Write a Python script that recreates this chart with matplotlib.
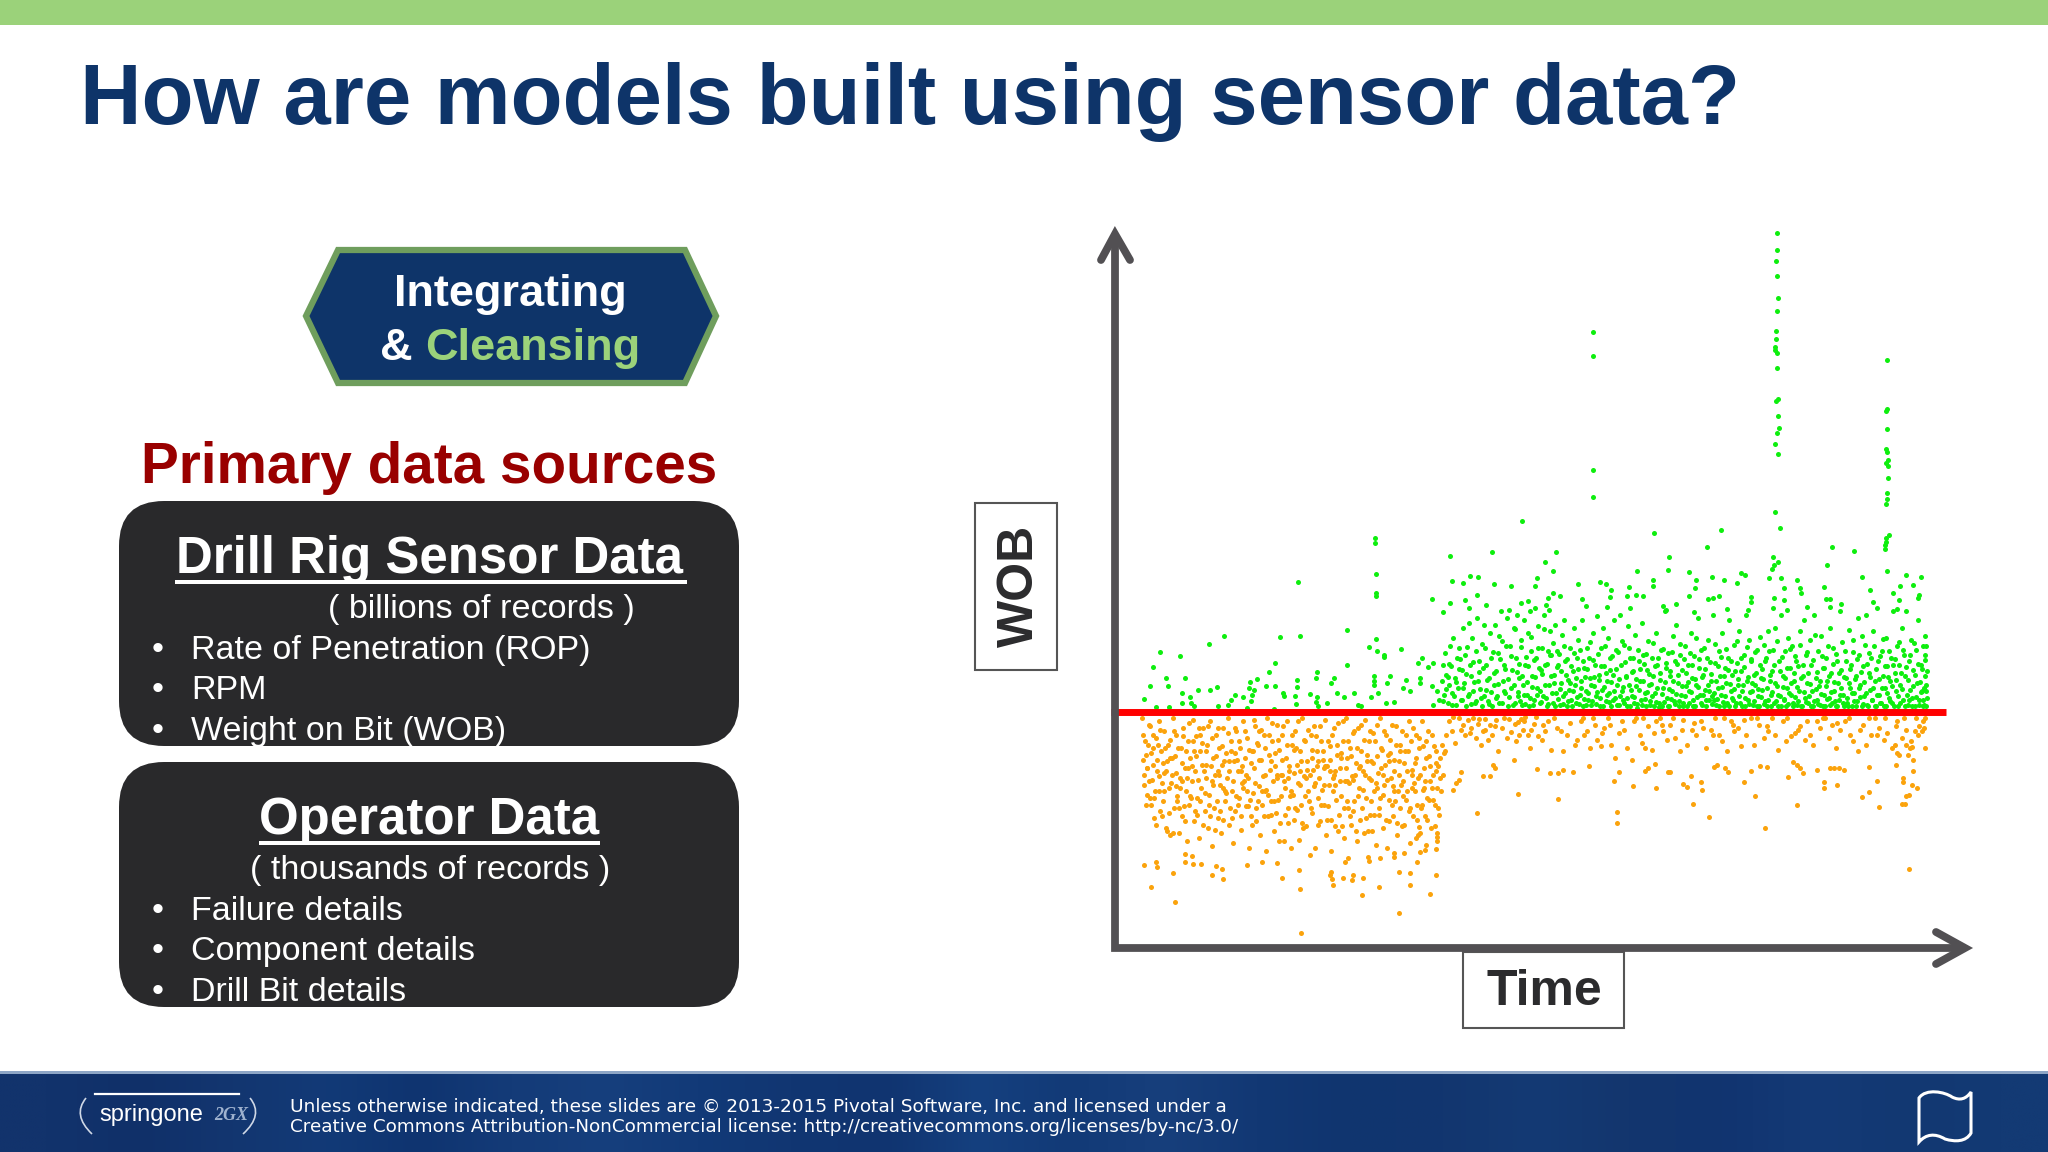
# Slide: how models are built using sensor data (WOB over time scatter)
import numpy as np
import matplotlib
matplotlib.use('Agg')
import matplotlib.pyplot as plt
from matplotlib.patches import FancyBboxPatch, Polygon, PathPatch, Rectangle
from matplotlib.path import Path
from matplotlib.colors import to_rgb

plt.rcParams['font.family'] = ['Liberation Sans', 'DejaVu Sans']

# Slide text
title = 'How are models built using sensor data?'
sensor_items = ['Rate of Penetration (ROP)', 'RPM', 'Weight on Bit (WOB)']
operator_items = ['Failure details', 'Component details', 'Drill Bit details']
footer_lines = ['Unless otherwise indicated, these slides are © 2013-2015 Pivotal Software, Inc. and licensed under a',
                'Creative Commons Attribution-NonCommercial license: http://creativecommons.org/licenses/by-nc/3.0/']

# WOB threshold and its time span
threshold = 707
threshold_span = [60, 1475]

# Green points (time, WOB) above the threshold
green_spikes = [(1188,2146),(1188,2093),(1187,2060),(1188,2017),(1190,1949),(1189,1912),(1187,1852),(1187,1827),
    (1186,1802),(1186,1794),(1188,1784),(1189,1741),(1191,1648),(1187,1641),(1190,1596),(1192,1561),(1189,1546),
    (1185,1513),(1191,1482),(1185,1309),(1193,1261),(876,1848),(876,1777),(876,1434),(876,1353),
    (1376,1764),(1376,1618),(1374,1612),(1376,1558),(1374,1497),(1376,1489),(1377,1464),(1374,1454),(1377,1446),
    (1377,1409),(1376,1364),(1376,1346),(1373,1331),(1378,1239),(1373,1229),(1373,1219),(1372,1209),(1372,1198),
    (757,1282),(980,1246),(1094,1254),(1070,1202),(1282,1204),(1320,1190),(705,1188),(814,1187),(634,1177),
    (507,1229),(507,1214),(508,1122),(509,1066),(509,1056),(377,1098)]
green_mid = [(1182,1174),(1190,1159),(1183,1149),(1181,1136),(1175,1111),(1196,1111),(1005,1174),(1004,1134),
    (1273,1150),(1375,1132),(1333,1114),(1407,1119),(1433,1113),(796,1157),(808,1131),(782,1111),(779,1087),
    (668,1116),(681,1114),(656,1096),(638,1100),(708,1092),(738,1087),(808,1064),(820,1056),(801,1049),(680,1059),
    (660,1044),(604,1046),(634,1034),(622,1009),(696,1029),(666,1019),(754,1034),(767,1042),(797,1029),(802,1014),
    (852,1092),(889,1099),(898,1092),(908,1074),(906,1054),(937,1082),(934,1056),(952,1132),(978,1104),(978,1086),
    (950,1059),(961,1056),(1039,1129),(1052,1104),(1079,1114),(1098,1104),(1050,1079),(1040,1056),(1128,1126),
    (1134,1119),(1120,1096),(1072,1046),(1080,1049),(1090,1056),(1145,1054),(1145,1039),(1140,1014),(1104,1017),
    (1222,1104),(1228,1079),(1230,1064),(1200,1079),(1200,1044),(1184,1049),(1182,1019),(1269,1084),(1272,1046),
    (1278,1046),(1278,1022),(1298,1032),(1240,1022),(1346,1074),(1352,1039),(1385,1066),(1397,1086),(1396,1044),
    (1419,1089),(1430,1059),(1428,1049),(1392,1017),(858,1046),(864,1026),(900,1024),(940,1021),(1017,1032),
    (996,1026),(1000,1014),(1048,1009),(1205,1014)]
green_early = [(142,887),(176,875),(226,912),(251,936),(346,933),(380,936),(459,955),(131,842),(153,811),(185,809),
    (125,786),(156,786),(207,774),(180,766),(115,747),(194,754),(180,736),(195,736),(200,726),(239,784),(228,774),
    (269,759),(262,744),(258,729),(240,726),(295,799),(307,806),(293,779),(301,774),(283,754),(298,759),(296,742),
    (327,827),(337,854),(322,786),(337,786),(351,764),(352,756),(375,804),(375,782),(372,756),(373,732),(408,829),
    (407,809),(397,762),(408,754),(407,737),(411,727),(425,734),(438,811),(433,796),(442,766),(455,754),(472,764),
    (460,849),(496,904),(508,926),(510,892),(522,879),(522,873),(551,897),(506,816),(506,801),(506,789),(532,817),
    (528,796),(512,764),(500,754),(560,804),(555,779),(566,772),(586,869),(580,854),(597,842),(606,854),(584,809),
    (583,794),(540,738),(526,734),(478,729),(484,727),(135,724),(158,724),(290,719),(335,717)]
green_dense = [
    (604,786),(606,730),(612,770),(616,745),(620,800),(622,850),(624,760),(626,885),(628,820),(630,735),(632,790),(634,905),
    (636,845),(638,765),(640,930),(642,810),(644,728),(646,870),(648,780),(650,900),(652,745),(654,835),(656,960),(658,795),
    (660,880),(662,725),(664,755),(666,975),(668,850),(670,815),(672,930),(674,770),(676,735),(678,890),(680,990),(682,800),
    (684,860),(686,750),(688,725),(690,840),(692,970),(694,900),(696,775),(698,740),(700,810),(702,945),(704,870),(706,725),
    (708,790),(710,970),(712,830),(714,755),(716,885),(718,735),(720,1010),(722,920),(724,800),(726,850),(728,765),(730,990),
    (732,725),(734,1015),(736,905),(738,780),(740,835),(742,960),(744,735),(746,870),(748,1000),(750,755),(752,810),(754,925),
    (756,730),(758,790),(760,985),(762,850),(764,760),(766,945),(768,725),(770,1010),(772,890),(774,815),(776,745),(778,1020),
    (780,870),(782,780),(784,965),(786,735),(788,835),(790,900),(792,755),(794,1000),(796,850),(798,725),(800,890),(802,790),
    (804,950),(806,880),(808,735),(810,820),(812,970),(814,765),(816,890),(818,850),(820,730),(822,795),(824,940),(826,755),
    (828,985),(830,860),(832,725),(834,805),(836,775),(838,900),(840,745),(842,830),(844,960),(846,790),(848,735),(850,870),
    (852,925),(854,760),(856,800),(858,985),(860,725),(862,840),(864,770),(866,900),(868,745),(870,870),(872,810),(874,730),
    (876,945),(878,785),(880,850),(882,755),(884,995),(886,820),(888,725),(890,900),(892,775),(894,960),(896,845),(898,740),
    (900,800),(902,930),(904,765),(906,870),(908,725),(910,820),(912,985),(914,750),(916,895),(918,790),(920,730),(922,1000),
    (924,850),(926,770),(928,745),(930,910),(932,815),(934,725),(936,965),(938,790),(940,870),(942,755),(944,830),(946,735),
    (948,940),(950,785),(952,720),(954,860),(956,800),(958,745),(960,975),(962,880),(964,765),(966,725),(968,835),(970,920),
    (972,790),(974,740),(976,870),(978,815),(980,725),(982,765),(984,945),(986,850),(988,735),(990,805),(992,895),(994,725),
    (996,780),(998,1010),(1000,840),(1002,750),(1004,885),(1006,725),(1008,815),(1010,770),(1012,935),(1014,740),(1016,860),(1018,970),
    (1020,795),(1022,725),(1024,880),(1026,760),(1028,835),(1030,735),(1032,905),(1034,785),(1036,725),(1038,850),(1040,770),(1042,945),
    (1044,810),(1046,745),(1048,875),(1050,725),(1052,790),(1054,990),(1056,840),(1058,760),(1060,895),(1062,730),(1064,820),(1066,775),
    (1068,745),(1070,870),(1072,925),(1074,770),(1076,800),(1078,755),(1080,1000),(1082,745),(1084,855),(1086,730),(1088,780),(1090,890),
    (1092,815),(1094,760),(1096,945),(1098,725),(1100,840),(1102,795),(1104,735),(1106,870),(1108,985),(1110,770),(1112,820),(1114,745),
    (1116,910),(1118,725),(1120,855),(1122,790),(1124,950),(1126,735),(1128,830),(1130,770),(1132,880),(1134,725),(1136,1000),(1138,800),
    (1140,745),(1142,925),(1144,860),(1146,770),(1148,730),(1150,820),(1152,790),(1154,895),(1156,755),(1158,725),(1160,850),(1162,810),
    (1164,775),(1166,910),(1168,740),(1170,870),(1172,725),(1174,950),(1176,800),(1178,760),(1180,830),(1182,895),(1184,735),(1186,960),
    (1188,785),(1190,725),(1192,860),(1194,755),(1196,1000),(1198,815),(1200,745),(1202,890),(1204,725),(1206,780),(1208,930),(1210,840),
    (1212,760),(1214,905),(1216,735),(1218,800),(1220,875),(1222,730),(1224,845),(1226,770),(1228,950),(1230,725),(1232,815),(1234,985),
    (1236,750),(1238,880),(1240,795),(1242,735),(1244,925),(1246,850),(1248,770),(1250,725),(1252,1000),(1254,810),(1256,745),(1258,890),
    (1260,785),(1262,730),(1264,935),(1266,840),(1268,760),(1270,725),(1272,870),(1274,800),(1276,750),(1278,960),(1280,825),(1282,735),
    (1284,900),(1286,770),(1288,725),(1290,860),(1292,795),(1294,745),(1296,1010),(1298,835),(1300,760),(1302,725),(1304,890),(1306,810),
    (1308,735),(1310,955),(1312,780),(1314,850),(1316,725),(1318,925),(1320,765),(1322,815),(1324,740),(1326,990),(1328,880),(1330,790),
    (1332,725),(1334,845),(1336,755),(1338,910),(1340,1000),(1342,730),(1344,825),(1346,775),(1348,870),(1350,745),(1352,950),(1354,800),
    (1356,725),(1358,1020),(1360,860),(1362,760),(1364,735),(1366,890),(1368,815),(1370,725),(1372,780),(1374,930),(1376,845),(1378,750),
    (1380,800),(1382,870),(1384,735),(1386,1010),(1388,825),(1390,770),(1392,905),(1394,725),(1396,850),(1398,790),(1400,960),(1402,745),
    (1404,880),(1406,815),(1408,1010),(1410,730),(1412,860),(1414,775),(1416,925),(1418,750),(1420,835),(1422,725),(1424,895),(1426,795),
    (1428,985),(1430,745),(1432,850),(1434,770),(1436,905),(1438,730),(1440,815),(1440,880),(1438,780),(1436,745),(1440,935),(1442,725)]
green_dense_2 = [
    (623,742),(627,776),(631,812),(633,851),(637,728),(641,757),(645,799),(649,836),(651,868),(655,744),(657,781),(661,822),
    (663,903),(667,761),(669,733),(673,858),(675,797),(679,742),(683,829),(685,776),(689,912),(691,756),(695,848),(697,803),
    (701,732),(703,768),(707,887),(709,824),(713,749),(715,792),(717,936),(719,868),(723,735),(725,771),(727,838),(729,905),
    (733,806),(735,752),(737,877),(741,728),(743,789),(745,956),(747,829),(749,768),(751,853),(753,741),(755,902),(757,816),
    (759,760),(761,731),(763,872),(765,797),(767,846),(769,749),(771,934),(773,782),(775,729),(777,865),(779,812),(781,758),
    (783,901),(785,839),(787,772),(789,737),(791,823),(793,958),(795,788),(797,751),(799,853),(801,733),(803,878),(805,815),
    (807,764),(809,916),(811,795),(813,727),(815,842),(817,748),(819,881),(821,777),(823,830),(825,733),(827,906),(829,764),
    (831,818),(833,868),(835,742),(837,795),(839,846),(841,727),(843,772),(845,885),(847,811),(849,754),(851,836),(853,732),
    (855,893),(857,779),(859,861),(861,748),(863,812),(865,729),(867,837),(869,766),(871,918),(873,790),(875,742),(877,865),
    (879,813),(881,731),(883,768),(885,882),(887,805),(889,749),(891,846),(893,727),(895,784),(897,905),(899,825),(901,758),
    (903,738),(905,833),(907,798),(909,876),(911,744),(913,771),(915,838),(917,729),(919,889),(921,807),(923,756),(925,920),
    (927,783),(929,734),(931,858),(933,812),(935,749),(937,899),(939,727),(941,775),(943,828),(945,869),(947,753),(949,806),
    (951,733),(953,894),(955,775),(957,838),(959,728),(961,800),(963,851),(965,746),(967,881),(969,767),(971,821),(973,729),
    (975,792),(977,755),(979,914),(981,846),(983,737),(985,781),(987,870),(989,724),(991,825),(993,763),(995,896),(997,738),
    (999,799),(1001,856),(1003,727),(1005,776),(1007,832),(1009,746),(1011,889),(1013,802),(1015,731),(1017,763),(1019,851),(1021,819),
    (1023,741),(1025,913),(1027,787),(1029,726),(1031,868),(1033,755),(1035,824),(1037,797),(1039,736),(1041,884),(1043,767),(1045,848),
    (1047,727),(1049,806),(1051,929),(1053,752),(1055,782),(1057,867),(1059,735),(1061,814),(1063,758),(1065,901),(1067,838),(1069,726),
    (1071,790),(1073,745),(1075,859),(1077,822),(1079,731),(1081,766),(1083,911),(1085,800),(1087,747),(1089,845),(1091,726),(1093,874),
    (1095,783),(1097,739),(1099,816),(1101,755),(1103,896),(1105,834),(1107,727),(1109,792),(1111,861),(1113,749),(1115,777),(1117,830),
    (1119,736),(1121,921),(1123,808),(1125,756),(1127,869),(1129,727),(1131,788),(1133,843),(1135,749),(1137,902),(1139,813),(1141,731),
    (1143,768),(1145,866),(1147,795),(1149,741),(1151,887),(1153,825),(1155,727),(1157,776),(1159,932),(1161,752),(1163,838),(1165,806),
    (1167,732),(1169,861),(1171,781),(1173,744),(1175,892),(1177,819),(1179,727),(1181,769),(1183,848),(1185,795),(1187,740),(1189,921),
    (1191,758),(1193,831),(1195,727),(1197,874),(1199,784),(1201,748),(1203,810),(1205,840),(1207,732),(1209,765),(1211,897),(1213,795),
    (1215,727),(1217,826),(1219,752),(1221,862),(1223,782),(1225,741),(1227,908),(1229,810),(1231,727),(1233,849),(1235,769),(1237,737),
    (1239,887),(1241,824),(1243,756),(1245,791),(1247,727),(1249,863),(1251,742),(1253,938),(1255,777),(1257,829),(1259,733),(1261,802),
    (1263,762),(1265,875),(1267,726),(1269,841),(1271,787),(1273,748),(1275,905),(1277,816),(1279,730),(1281,768),(1283,851),(1285,797),
    (1287,741),(1289,882),(1291,726),(1293,826),(1295,758),(1297,780),(1299,917),(1301,735),(1303,812),(1305,862),(1307,751),(1309,727),
    (1311,794),(1313,838),(1315,766),(1317,889),(1319,740),(1321,808),(1323,727),(1325,868),(1327,779),(1329,752),(1331,827),(1333,935),
    (1335,733),(1337,797),(1339,764),(1341,851),(1343,726),(1345,884),(1347,813),(1349,744),(1351,780),(1353,905),(1355,727),(1357,838),
    (1359,759),(1361,806),(1363,875),(1365,736),(1367,781),(1369,926),(1371,846),(1373,727),(1375,764),(1377,812),(1379,892),(1381,741),
    (1383,785),(1385,848),(1387,726),(1389,868),(1391,803),(1393,757),(1395,917),(1397,735),(1399,826),(1401,778),(1403,893),(1405,727),
    (1407,842),(1409,760),(1411,803),(1413,744),(1415,878),(1417,727),(1419,785),(1421,915),(1423,818),(1425,754),(1427,853),(1429,730),
    (1431,798),(1433,768),(1435,837),(1437,726),(1439,864),(1441,790),(1443,750),(1443,830),(1442,770),(1441,905)]

# Orange points (time, WOB) below the threshold
orange_tail = [(127,184),(168,137),(116,249),(135,259),(138,242),(164,226),(184,282),(185,258),(196,277),(198,252),
    (212,252),(231,220),(238,247),(248,236),(250,207),(290,248),(316,257),(340,254),(350,210),(378,233),(379,176),
    (381,46),(547,106),(485,160),(600,162),(514,184),(566,189),(566,226),(548,227),(610,218),(433,229),(430,219),
    (434,206),(435,189),(452,211),(470,219),(468,204),(487,209),(456,259),(462,269),(495,274),(497,262),(516,269),
    (540,284),(556,286),(540,274),(578,259),(584,289),(594,309),(612,346),(612,334),(612,322),(610,296),(591,294),
    (582,364),(580,339),(576,329)]
orange_late = [(1413,236),(1168,359),(1074,394),(918,409),(917,374),(680,404),(750,461),(817,446),(1047,431),(1222,430),
    (1362,424),(1400,432),(1405,432),(1408,456),(1412,459),(1332,454),(1345,469),(1151,456),(1062,474),(1060,499),
    (1043,516),(1030,491),(1036,484),(983,480),(945,486),(912,502),(921,529),(965,531),(970,539),(982,552),(1003,529),
    (1008,529),(870,546),(843,527),(826,534),(804,524),(818,524),(782,536),(690,516),(702,516),(707,549),(711,539),
    (640,474),(645,494),(650,504),(652,529),(1133,499),(1145,531),(1160,546),(1171,544),(1082,542),(1087,549),(1100,539),
    (1106,529),(1208,512),(1215,559),(1222,549),(1228,539),(1232,524),(1257,534),(1278,539),(1285,539),(1293,539),
    (1303,534),(1268,499),(1268,479),(1291,489),(1359,502),(1345,544),(1390,549),(1392,584),(1402,509),(1402,499),
    (1418,489),(1426,479),(1420,531),(1420,564),(1410,579),(1418,604),(1440,599),(1408,609),
    (632,680),(638,650),(642,615),(650,690),(656,670),(660,640),(664,685),(670,660),(674,690),(678,630),(682,672),
    (686,610),(690,650),(694,688),(698,625),(702,668),(706,640),(712,684),(716,590),(722,660),(730,630),(734,686),
    (738,648),(742,565),(746,620),(750,678),(754,688),(758,655),(762,692),(766,640),(770,600),(776,672),(784,635),
    (790,625),(796,650),(800,680),(806,595),(816,660),(826,590),(832,640),(846,610),(850,625),(856,680),(860,690),
    (866,650),(872,600),(880,670),(884,625),(890,605),(896,660),(902,690),(908,610),(914,570),(920,645),(926,680),
    (934,600),(942,565),(950,690),(956,640),(960,615),(964,600),(970,665),(976,595),(984,680),(990,690),(996,650),
    (1002,625),(1008,670),(1016,630),(1024,590),(1030,685),(1036,610),(1044,655),(1052,640),(1060,680),(1068,600),
    (1076,655),(1084,690),(1090,640),(1096,620),(1104,590),(1110,680),(1116,650),(1122,660),(1128,605),(1136,640),
    (1144,690),(1150,610),(1158,670),(1166,630),(1174,650),(1180,690),(1190,595),(1198,680),(1204,620),(1212,635),
    (1220,645),(1228,665),(1236,625),(1244,640),(1250,610),(1256,680),(1262,660),(1270,690),(1276,630),(1282,670),
    (1288,600),(1296,655),(1304,680),(1312,640),(1318,620),(1326,590),(1334,670),(1340,610),(1348,640),(1354,690),
    (1362,660),(1370,625),(1376,645),(1384,600),(1392,680),(1400,630),(1408,655),(1416,620),(1424,690),(1430,665),
    (1436,680),(1440,690),(1434,650),(1428,640),(1388,610),(1396,580),(1414,600),
    (640,692),(652,655),(668,645),(684,688),(694,655),(710,665),(726,690),(744,672),(752,640),(760,680),(772,655),
    (780,692),(792,668),(810,690),(822,650),(838,675),(862,640),(876,690),(892,645),(906,670),(930,655),(946,680),
    (962,690),(980,645),(994,670),(1012,690),(1028,655),(1048,675),(1064,660),(1080,640),(1098,690),(1114,670),
    (1132,685),(1154,690),(1172,665),(1186,640),(1206,690),(1224,655),(1240,680),(1266,690),(1290,675),(1310,690),
    (1330,655),(1344,690),(1358,640),(1372,690),(1390,665),(1404,690),(1422,650),(1438,660)]
orange_dense = [
    (112,690),(114,640),(116,520),(118,580),(120,460),(122,610),(124,500),(126,665),(128,430),(130,550),(132,390),(134,470),
    (136,630),(138,530),(140,680),(142,410),(144,590),(146,495),(148,440),(150,650),(152,360),(154,560),(156,610),(158,480),
    (160,340),(162,520),(164,690),(166,420),(168,575),(170,640),(172,455),(174,345),(176,510),(178,600),(180,395),(182,660),
    (184,540),(186,470),(188,320),(190,620),(192,430),(194,570),(196,500),(198,685),(200,380),(202,530),(204,635),(206,450),
    (208,330),(210,590),(212,480),(214,550),(216,660),(218,410),(220,510),(222,610),(224,360),(226,460),(228,680),(230,305),
    (232,570),(234,420),(236,520),(238,640),(240,390),(242,600),(244,490),(246,345),(248,550),(250,660),(252,440),(254,585),
    (256,510),(258,690),(260,370),(262,620),(264,470),(266,315),(268,560),(270,410),(272,650),(274,530),(276,450),(278,600),
    (280,355),(282,495),(284,680),(286,570),(288,425),(290,630),(292,510),(294,300),(296,395),(298,590),(300,465),(302,540),
    (304,665),(306,380),(308,610),(310,485),(312,340),(314,565),(316,430),(318,640),(320,520),(322,290),(324,690),(326,460),
    (328,580),(330,400),(332,620),(334,500),(336,350),(338,545),(340,670),(342,445),(344,595),(346,375),(348,520),(350,640),
    (352,320),(354,480),(356,570),(358,680),(360,420),(362,530),(364,300),(366,610),(368,460),(370,385),(372,650),(374,550),
    (376,495),(378,325),(380,590),(382,430),(384,690),(386,515),(388,620),(390,365),(392,560),(394,470),(396,280),(398,640),
    (400,405),(402,535),(404,665),(406,300),(408,590),(410,450),(412,510),(414,380),(416,620),(418,565),(420,490),(422,685),
    (424,340),(426,545),(428,425),(430,605),(432,290),(434,640),(436,470),(438,520),(440,365),(442,580),(444,675),(446,400),
    (448,540),(450,455),(452,620),(454,330),(456,500),(458,690),(460,570),(462,420),(464,600),(466,370),(468,515),(470,645),
    (472,440),(474,555),(476,320),(478,660),(480,480),(482,385),(484,590),(486,530),(488,345),(490,685),(492,450),(494,560),
    (496,620),(498,400),(500,505),(502,350),(504,645),(506,470),(508,310),(510,575),(512,525),(514,420),(516,690),(518,600),
    (520,360),(522,490),(524,550),(526,640),(528,300),(530,445),(532,585),(534,510),(536,670),(538,395),(540,530),(542,610),
    (544,340),(546,470),(548,560),(550,420),(552,650),(554,500),(556,370),(558,590),(560,445),(562,530),(564,680),(566,315),
    (568,620),(570,480),(572,395),(574,555),(576,640),(578,430),(580,510),(582,600),(584,345),(586,680),(588,475),(590,540),
    (592,395),(594,620),(596,450),(598,575),(600,500),(602,360),(604,640),(606,520),(608,430),(610,590),(612,480),(614,545),
    (616,400),(618,570),(620,610),(622,520),(624,585),(626,590),(628,640),
    (125,450),(135,370),(145,395),(155,350),(165,345),(175,420),(185,380),(195,450),(205,400),(215,370),(225,430),(235,355),
    (245,410),(255,465),(265,390),(275,430),(285,500),(295,445),(305,420),(315,470),(325,395),(335,440),(345,320),(355,400),
    (365,470),(375,415),(385,360),(395,440),(405,495),(415,430),(425,385),(435,510),(445,350),(455,420),(465,395),(475,350),
    (485,420),(495,350),(505,400),(515,450),(525,385),(535,430),(545,375),(555,455),(565,410),(575,470),(585,420),(595,385),
    (605,445),(130,600),(150,525),(170,485),(190,540),(210,640),(230,500),(250,480),(270,585),(290,470),(310,650),(330,560),
    (350,520),(370,595),(390,510),(410,560),(430,530),(450,570),(470,505),(490,520),(510,480),(530,560),(550,590),(570,520),
    (590,480),(610,530),(120,540),(140,470),(160,570),(180,500),(200,590),(220,550),(240,530),(260,560),(280,530),(300,590),
    (320,470),(340,520),(360,510),(380,530),(400,570),(420,540),(440,490),(460,500),(480,540),(500,560),(520,520),(540,470)]
orange_dense_2 = [
    (113,565),(115,490),(117,620),(119,430),(121,540),(123,670),(127,585),(129,505),(131,640),(133,450),(137,565),(139,610),
    (141,515),(143,655),(147,555),(149,470),(151,600),(153,530),(157,405),(159,625),(161,495),(163,570),(167,650),(169,525),
    (171,440),(173,600),(177,480),(179,555),(181,635),(183,425),(187,590),(189,510),(191,675),(193,455),(197,545),(199,620),
    (201,410),(203,575),(207,505),(209,660),(211,440),(213,615),(217,530),(219,465),(221,590),(223,665),(227,395),(229,545),
    (231,630),(233,490),(237,575),(239,440),(241,660),(243,520),(247,605),(249,385),(251,560),(253,470),(257,645),(259,530),
    (261,420),(263,590),(267,500),(269,660),(271,455),(273,565),(277,620),(279,395),(281,545),(283,480),(287,650),(289,520),
    (291,425),(293,595),(297,555),(299,370),(301,685),(303,495),(307,615),(309,440),(311,565),(313,655),(317,515),(319,395),
    (321,600),(323,475),(327,640),(329,535),(331,440),(333,675),(337,585),(339,405),(341,510),(343,625),(347,455),(349,565),
    (351,665),(353,500),(357,610),(359,375),(361,545),(363,455),(367,640),(369,525),(371,420),(373,600),(377,680),(379,490),
    (381,560),(383,375),(387,625),(389,455),(391,535),(393,655),(397,520),(399,420),(401,595),(403,485),(407,635),(409,545),
    (411,370),(413,665),(417,475),(419,590),(421,430),(423,545),(427,620),(429,490),(431,565),(433,385),(437,660),(439,530),
    (441,445),(443,610),(447,500),(449,585),(451,365),(453,680),(457,540),(459,440),(461,620),(463,495),(467,575),(469,410),
    (471,650),(473,520),(477,600),(479,455),(481,545),(483,670),(487,475),(489,625),(491,390),(493,580),(497,510),(499,650),
    (501,440),(503,555),(507,620),(509,495),(511,670),(513,400),(517,540),(519,595),(521,460),(523,650),(527,505),(529,580),
    (531,380),(533,625),(537,485),(539,565),(541,440),(543,665),(547,520),(549,610),(551,490),(553,365),(557,555),(559,640),
    (561,470),(563,590),(567,420),(569,535),(571,660),(573,495),(577,570),(579,385),(581,630),(583,520),(587,430),(589,605),
    (591,500),(593,570),(597,650),(599,445),(601,545),(603,480),(607,605),(609,365),(611,555),(613,420),(617,510),(619,470)]

# Footer stripes, left to right
footer_colors = ['#12336c', '#103069', '#133670', '#123a77', '#0f3470', '#143b78', '#163f7d', '#123a78', '#113672',
                 '#103470', '#15407f', '#123a77', '#173f7c', '#123874', '#10356f', '#12366f', '#143a74', '#13366e',
                 '#113470', '#143a76', '#123872', '#133a74']

navy = '#0e3469'
light_green = '#9bd27a'
panel = '#29292b'
axis_gray = '#525053'

fig = plt.figure(figsize=(20.48, 11.52), dpi=100, facecolor='white')

# Whole slide layer in pixel coordinates
bg = fig.add_axes([0, 0, 1, 1], zorder=1)
bg.set_xlim(0, 2048)
bg.set_ylim(1152, 0)
bg.axis('off')

bg.add_patch(Rectangle((0, 0), 2048, 25, color=light_green, lw=0))
bg.text(80, 124, title, fontsize=61.3, fontweight='bold', color=navy, va='baseline')

# Hexagon label
hexagon = Polygon([(306, 316), (338, 250), (685, 250), (716, 316), (685, 383), (338, 383)], closed=True,
                  facecolor=navy, edgecolor='#6f9e5d', linewidth=4.5, joinstyle='miter')
bg.add_patch(hexagon)
bg.text(510, 306, 'Integrating', fontsize=32.5, fontweight='bold', color='white', ha='center', va='baseline')
bg.text(380, 360, '&', fontsize=32.5, fontweight='bold', color='white', va='baseline')
bg.text(425, 360, 'Cleansing', fontsize=32.5, fontweight='bold', color=light_green, va='baseline')

bg.text(429, 483, 'Primary data sources', fontsize=40.8, fontweight='bold', color='#990000', ha='center', va='baseline')


def draw_box(top, heading, heading_x, sub, sub_x, items, line_x0, line_x1):
    # dark rounded panel with underlined heading and bullets
    r = 45
    box = FancyBboxPatch((119 + r, top + r), 620 - 2 * r, 245 - 2 * r,
                         boxstyle='round,pad=%d,rounding_size=%d' % (r, r), facecolor=panel, edgecolor='none')
    bg.add_patch(box)
    bg.text(heading_x, top + 72, heading, fontsize=36.7, fontweight='bold', color='white', ha='center', va='baseline')
    bg.add_patch(Rectangle((line_x0, top + 79), line_x1 - line_x0, 4, color='white', lw=0))
    bg.text(sub_x, top + 117, sub, fontsize=24.6, color='white', ha='center', va='baseline')
    for item, offset in zip(items, [158, 198, 239]):
        b = bg.text(158, top + offset, '•', fontsize=24.6, color='white', ha='center', va='baseline')
        t = bg.text(191, top + offset, item, fontsize=24.5, color='white', va='baseline')
        b.set_clip_path(box)
        t.set_clip_path(box)


draw_box(501, 'Drill Rig Sensor Data', 429, '( billions of records )', 481, sensor_items, 175, 687)
draw_box(762, 'Operator Data', 429, '( thousands of records )', 430, operator_items, 259, 600)

# Axis labels in boxes
bg.add_patch(Rectangle((975, 503), 82, 167, facecolor='white', edgecolor='#555555', linewidth=1.5))
bg.text(1020, 586, 'WOB', fontsize=36, fontweight='bold', color='#2b2b2d', rotation=90, ha='center', va='center')
bg.add_patch(Rectangle((1463, 952), 161, 76, facecolor='white', edgecolor='#555555', linewidth=1.5))
bg.text(1544, 1005, 'Time', fontsize=36, fontweight='bold', color='#2b2b2d', ha='center', va='baseline')

# Footer band
rgb = np.array([[to_rgb(c) for c in footer_colors]])
bg.imshow(rgb, extent=(0, 2048, 1152, 1073), aspect='auto', interpolation='bilinear', zorder=1)
bg.set_xlim(0, 2048)
bg.set_ylim(1152, 0)
bg.add_patch(Rectangle((0, 1071), 2048, 2.5, color='#8ea6c6', lw=0, zorder=2))
bg.text(290, 1112, footer_lines[0], fontsize=13.3, family='DejaVu Sans', color='white', va='baseline', zorder=3)
bg.text(290, 1132, footer_lines[1], fontsize=13.2, family='DejaVu Sans', color='white', va='baseline', zorder=3)

# Conference logo
bg.text(99, 1121, 'springone', fontsize=17, color='white', va='baseline', zorder=3)
bg.text(214, 1120, '2GX', fontsize=13, fontweight='bold', style='italic', family='Liberation Serif',
        color='#9fb2cf', va='baseline', zorder=3)
bg.plot([95, 239], [1094, 1094], color='white', lw=1.6, zorder=3)
bg.add_patch(PathPatch(Path([(86, 1098), (72, 1115), (92, 1134)], [Path.MOVETO, Path.CURVE3, Path.CURVE3]),
                       facecolor='none', edgecolor='#cfd8e6', lw=1.2, zorder=3))
bg.add_patch(PathPatch(Path([(250, 1098), (264, 1115), (243, 1134)], [Path.MOVETO, Path.CURVE3, Path.CURVE3]),
                       facecolor='none', edgecolor='#cfd8e6', lw=1.2, zorder=3))

# Flag icon
flag_path = Path([(1919, 1098), (1926, 1088), (1945, 1092), (1952, 1097), (1960, 1101), (1966, 1099), (1971, 1092),
                  (1971, 1133), (1966, 1142), (1955, 1142), (1945, 1139), (1935, 1133), (1926, 1134), (1919, 1142),
                  (1919, 1098)],
                 [Path.MOVETO, Path.CURVE4, Path.CURVE4, Path.CURVE4, Path.CURVE4, Path.CURVE4, Path.CURVE4,
                  Path.LINETO, Path.CURVE4, Path.CURVE4, Path.CURVE4, Path.CURVE4, Path.CURVE4, Path.CURVE4,
                  Path.CLOSEPOLY])
bg.add_patch(PathPatch(flag_path, facecolor='none', edgecolor='white', lw=2.2, zorder=3))

# Scatter layer: time 0-1560 across 1076-1996 px, WOB -240 to 2214 across 1028-210 px
ax = fig.add_axes([1076 / 2048, 1 - 1028 / 1152, 920 / 2048, 818 / 1152], zorder=2)
ax.set_xlim(0, 1560)
ax.set_ylim(-240, 2214)
ax.axis('off')

green = np.array(green_spikes + green_mid + green_early + green_dense + green_dense_2)
orange = np.array(orange_tail + orange_late + orange_dense + orange_dense_2)
ax.scatter(green[:, 0], green[:, 1], s=13, color='#0eee0e', linewidths=0)
ax.scatter(orange[:, 0], orange[:, 1], s=13, color='#fba30c', linewidths=0)
ax.plot(threshold_span, [threshold, threshold], color='#ff0000', lw=5, solid_capstyle='butt')

# Axis arrows
ax_layer = fig.add_axes([0, 0, 1, 1], zorder=3)
ax_layer.set_xlim(0, 2048)
ax_layer.set_ylim(1152, 0)
ax_layer.axis('off')
ax_layer.plot([1115, 1115, 1962], [238, 948, 948], color=axis_gray, lw=5.6, solid_joinstyle='miter')
ax_layer.plot([1101, 1115, 1130], [260, 234, 260], color=axis_gray, lw=5.6, solid_capstyle='round',
              solid_joinstyle='miter')
ax_layer.plot([1936, 1965, 1936], [932, 948, 964], color=axis_gray, lw=5.6, solid_capstyle='round',
              solid_joinstyle='miter')

fig.savefig('out.png', dpi=100)
